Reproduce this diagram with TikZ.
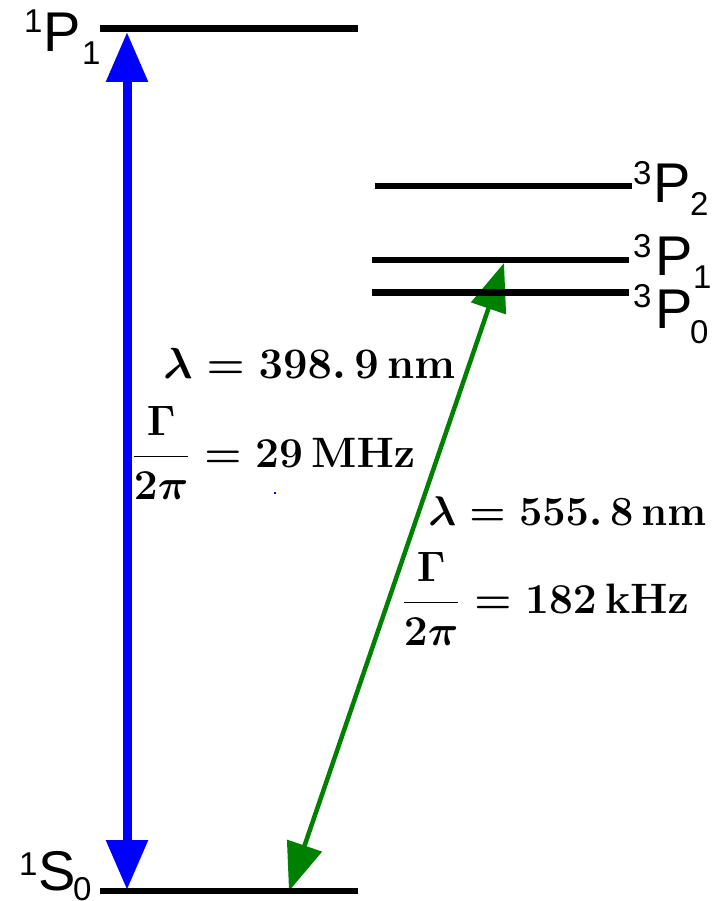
\documentclass[tikz,border=0pt]{standalone}
\usepackage[no-math]{fontspec}
\setmainfont{Liberation Sans}
\usetikzlibrary{arrows.meta}
\definecolor{lvgreen}{RGB}{0,128,0}
\begin{document}
\begin{tikzpicture}[x=1pt,y=-1pt,
  level/.style={line width=6.5pt},
  bluearrow/.style={blue,line width=9pt,{Triangle[length=50pt,width=40pt]}-{Triangle[length=50pt,width=40pt]}},
  greenarrow/.style={lvgreen,line width=4.5pt,{Triangle[length=48pt,width=36pt]}-{Triangle[length=48pt,width=36pt]}},
  termbig/.style={inner sep=0pt,anchor=base west,font=\fontsize{56}{56}\selectfont},
  termsmall/.style={inner sep=0pt,anchor=base west,font=\fontsize{33}{33}\selectfont},
  eqtext/.style={inner sep=0pt,anchor=base west,font=\fontsize{20.74}{25}\selectfont\boldmath}]
\useasboundingbox[fill=white] (0,0) rectangle (720,901);

% level end points
\coordinate (p1l) at (100,28.5); \coordinate (p1r) at (358,28.5);
\coordinate (s0l) at (100,891);  \coordinate (s0r) at (358,891);
\coordinate (t2l) at (375,186);  \coordinate (t2r) at (632,186);
\coordinate (t1l) at (372,260);  \coordinate (t1r) at (629,260);
\coordinate (t0l) at (372,292.5);\coordinate (t0r) at (629,292.5);

% arrow end points
\coordinate (btop) at (127,32);
\coordinate (bbot) at (127,890);
\coordinate (gtop) at (504,263);
\coordinate (gbot) at (289,891);

% transitions
\draw[bluearrow] (bbot) -- (btop);
\draw[greenarrow] (gbot) -- (gtop);

% levels
\draw[level] (p1l) -- (p1r);
\draw[level] (s0l) -- (s0r);
\draw[level] (t2l) -- (t2r);
\draw[level] (t1l) -- (t1r);
\draw[level] (t0l) -- (t0r);

% term labels
\node[termsmall] (p1a) at (24,33) {1};
\node[termbig]   (p1b) at (43,52) {P};
\node[termsmall] (p1c) at (82,65) {1};

\node[termsmall] (s0a) at (19,875) {1};
\node[termbig]   (s0b) at (38,890) {S};
\node[termsmall] (s0c) at (73,900) {0};

\node[termsmall] (t2a) at (633,185) {3};
\node[termbig]   (t2b) at (653,203) {P};
\node[termsmall] (t2c) at (690,215) {2};

\node[termsmall] (t1a) at (633,258) {3};
\node[termbig]   (t1b) at (655,275) {P};
\node[termsmall] (t1c) at (693,288) {1};

\node[termsmall] (t0a) at (633,307) {3};
\node[termbig]   (t0b) at (655,328) {P};
\node[termsmall] (t0c) at (690,343) {0};

% transition labels
\node[eqtext,scale=2.1]  (lamb) at (163,378) {$\lambda = 398.\,9\,\mathbf{nm}$};
\node[eqtext,scale=2.05] (gamb) at (131,467) {$\displaystyle\frac{\Gamma}{2\pi} = 29\,\mathbf{MHz}$};
\node[eqtext,scale=2.0]  (lamg) at (428,525) {$\lambda = 555.\,8\,\mathbf{nm}$};
\node[eqtext,scale=2.05] (gamg) at (401,613) {$\displaystyle\frac{\Gamma}{2\pi} = 182\,\mathbf{kHz}$};

% stray dot
\fill[blue] (273.5,491.5) rectangle (276,494);
\end{tikzpicture}
\end{document}
